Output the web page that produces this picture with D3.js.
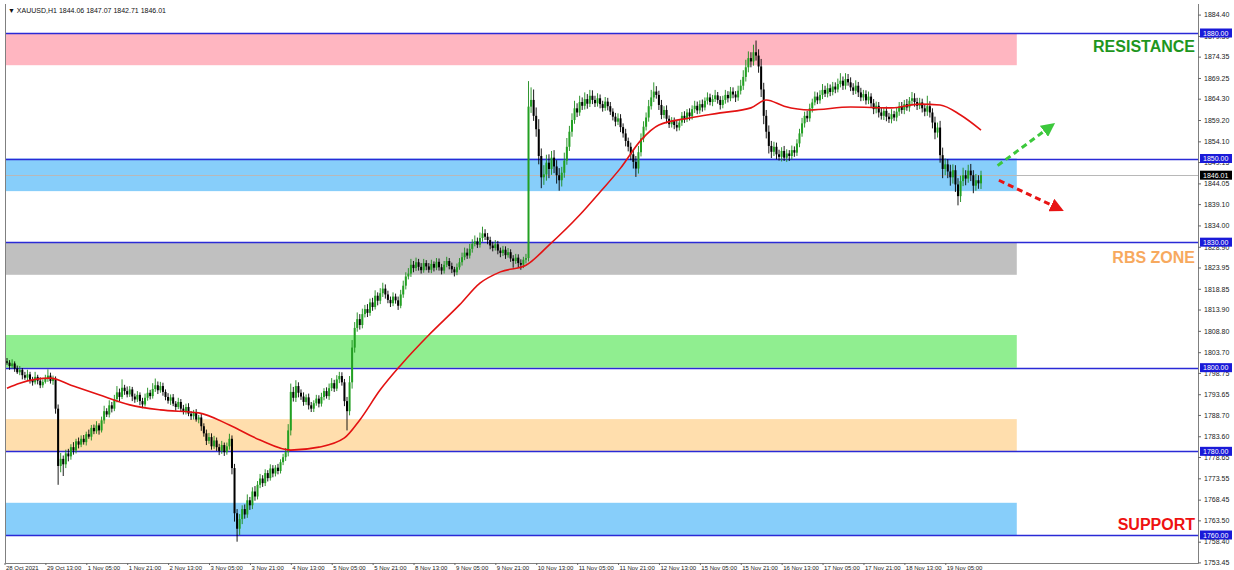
<!DOCTYPE html>
<html><head><meta charset="utf-8">
<script src="https://cdn.jsdelivr.net/npm/d3@7"></script>
<style>html,body{margin:0;padding:0;background:#fff;overflow:hidden}</style>
</head><body>
<svg id="c" width="1234" height="570"></svg>
<script>
// ---------- DATA ----------
const symbolTitle = "▼ XAUUSD,H1  1844.06 1847.07 1842.71 1846.01";
const firstOpen = 1801.5;
const closes = [
1801.2,1800.4,1801.0,1799.8,1798.9,1799.5,1798.2,1797.6,1798.4,1797.1,
1796.5,1797.8,1796.9,1795.8,1796.6,1797.4,1798.1,1796.8,1797.3,1790.2,
1776.5,1778.2,1776.9,1779.5,1778.8,1781.0,1780.2,1782.4,1781.6,1783.0,
1782.2,1784.1,1783.5,1785.6,1784.8,1786.2,1785.0,1787.4,1789.6,1788.8,
1791.0,1790.2,1792.5,1794.1,1793.0,1795.2,1794.4,1793.6,1794.8,1793.1,
1792.4,1793.5,1792.0,1791.2,1792.8,1794.0,1793.2,1794.9,1795.8,1794.6,
1795.6,1794.2,1793.0,1792.1,1792.9,1791.4,1790.6,1791.8,1790.2,1789.5,
1790.6,1789.0,1788.4,1789.2,1787.6,1788.1,1786.0,1784.3,1782.5,1783.4,
1781.2,1782.6,1781.0,1780.1,1781.5,1779.8,1781.2,1783.0,1776.0,1765.2,
1761.5,1763.8,1766.2,1764.9,1768.3,1767.1,1770.4,1769.2,1772.0,1773.5,
1772.4,1774.8,1773.6,1775.9,1774.7,1776.1,1775.3,1777.4,1778.6,1779.8,
1785.0,1794.2,1792.8,1795.6,1794.0,1793.1,1791.8,1792.9,1791.0,1790.2,
1791.5,1792.6,1791.4,1793.0,1794.4,1793.2,1795.1,1796.3,1795.0,1797.2,
1798.0,1796.5,1792.0,1789.6,1796.5,1804.8,1809.5,1811.6,1810.2,1812.8,
1814.0,1813.1,1815.6,1814.5,1817.2,1816.0,1817.8,1818.9,1817.5,1816.2,
1815.4,1817.0,1816.1,1814.8,1817.5,1819.6,1821.8,1822.5,1824.6,1823.8,
1825.2,1824.1,1823.3,1825.0,1824.2,1823.4,1824.8,1823.9,1825.3,1824.0,
1823.2,1824.6,1825.5,1824.3,1823.5,1822.8,1824.0,1825.2,1826.4,1827.5,
1826.8,1828.4,1829.6,1830.2,1829.4,1831.0,1832.1,1831.3,1830.5,1829.2,
1828.6,1829.5,1828.0,1827.4,1828.2,1826.9,1827.6,1826.1,1825.5,1826.3,
1825.0,1824.6,1825.8,1826.2,1862.4,1864.0,1860.2,1857.0,1850.6,1845.5,
1846.2,1849.0,1847.5,1850.2,1848.1,1846.0,1844.8,1846.6,1849.5,1852.8,
1856.4,1859.2,1862.0,1861.0,1863.5,1862.6,1864.2,1863.1,1865.0,1864.0,
1863.2,1864.4,1863.0,1862.1,1863.6,1862.5,1861.2,1860.0,1858.8,1859.6,
1857.5,1856.0,1854.2,1852.8,1851.0,1849.2,1847.6,1851.5,1854.8,1857.6,
1859.8,1862.5,1864.6,1866.0,1865.2,1862.8,1860.4,1861.6,1859.5,1858.2,
1859.0,1858.0,1857.4,1858.6,1860.2,1859.4,1861.0,1860.1,1861.8,1862.6,
1861.5,1863.0,1862.2,1863.8,1864.6,1863.5,1864.2,1865.1,1864.0,1862.8,
1864.0,1865.2,1864.4,1866.0,1865.3,1864.6,1866.2,1867.4,1869.5,1871.8,
1874.0,1873.2,1875.4,1874.6,1872.0,1866.5,1860.2,1856.4,1853.0,1851.6,
1852.8,1851.0,1850.4,1851.8,1850.2,1851.2,1850.6,1852.0,1851.4,1853.6,
1856.0,1858.4,1860.2,1859.6,1862.0,1863.4,1864.8,1863.9,1865.2,1866.4,
1865.5,1866.8,1865.9,1867.2,1866.5,1867.8,1868.6,1867.4,1869.0,1868.2,
1867.0,1866.2,1867.4,1865.8,1864.6,1865.4,1863.9,1864.8,1863.2,1861.8,
1862.6,1861.0,1860.2,1861.4,1860.0,1859.4,1860.6,1859.8,1861.2,1862.4,
1861.6,1863.0,1862.2,1863.8,1864.4,1863.5,1862.6,1863.4,1862.0,1861.2,
1862.5,1861.0,1858.6,1856.2,1857.4,1850.8,1847.5,1848.6,1846.9,1845.5,
1847.2,1843.8,1841.0,1844.6,1846.0,1845.2,1847.1,1846.0,1843.5,1844.8,
1844.06,1846.01];
const upperWick = [
0.8,0.6,1.0,0.5,0.7,0.9,0.4,0.8,1.1,0.6, 0.7,1.2,0.5,0.8,0.6,0.9,1.5,0.7,0.8,0.6,
1.0,1.4,0.8,0.9,1.1,0.7,1.2,0.6,0.9,0.8, 0.9,0.6,1.1,0.7,0.8,1.0,0.5,0.9,1.3,0.7,
1.2,0.8,1.0,1.5,0.9,2.0,0.7,1.1,0.8,0.6, 0.7,0.9,0.6,0.8,1.0,1.2,0.7,1.4,1.6,0.9,
1.0,0.8,0.6,0.9,0.7,0.8,0.6,1.0,0.7,0.9, 0.8,0.9,0.6,0.7,0.9,0.6,0.8,0.7,0.9,1.0,
0.9,1.1,0.7,0.8,1.0,0.6,0.9,1.2,0.8,1.0, 1.0,1.2,0.9,1.1,1.4,0.8,1.0,1.3,0.9,1.1,
0.8,0.9,0.7,1.0,0.8,0.6,0.9,0.7,0.8,1.0, 1.5,2.0,1.2,1.4,0.9,0.8,1.0,0.7,0.9,0.8,
0.7,0.9,0.8,1.0,0.7,0.9,1.1,1.2,0.8,1.0, 1.0,0.9,0.8,1.0,1.5,1.8,1.4,1.6,1.2,1.3,
1.0,1.2,0.9,1.1,1.3,0.8,1.2,1.4,1.0,0.9, 0.8,1.0,0.7,0.9,1.1,1.2,1.0,1.3,1.4,0.9,
1.1,0.8,0.9,1.0,0.7,0.8,1.0,0.6,0.9,0.8, 0.8,0.9,1.0,0.7,0.8,0.6,0.9,1.0,1.1,1.2,
1.0,1.2,1.1,1.4,0.9,1.3,1.6,1.0,0.9,0.8, 0.9,1.0,0.8,0.7,0.9,0.8,1.0,0.7,0.8,0.9,
0.8,0.9,0.7,1.0,6.1,3.0,2.5,2.0,2.4,1.8, 2.2,1.9,2.0,1.6,1.8,1.5,1.7,1.4,1.9,2.1,
1.4,1.6,1.8,1.2,1.5,1.1,1.6,1.2,1.4,1.3, 1.0,1.2,0.9,0.8,1.1,0.9,1.0,0.8,0.9,1.2,
1.0,0.9,1.1,0.8,1.0,1.2,1.4,1.5,1.2,1.3, 1.2,1.5,1.8,2.2,1.3,1.0,1.2,0.9,1.1,0.8,
0.9,0.8,1.0,0.7,0.9,1.1,0.8,1.0,0.9,1.2, 1.0,0.9,1.1,0.8,1.2,0.9,1.0,1.3,0.8,0.9,
1.0,1.2,0.9,1.1,1.0,0.8,1.2,1.4,1.6,1.8, 1.6,1.4,1.8,2.8,1.5,1.8,1.6,1.4,1.5,1.2,
1.2,1.0,1.1,0.9,1.2,1.0,0.8,1.1,0.9,1.0, 1.1,1.3,1.0,1.2,1.1,0.9,1.2,1.0,1.1,1.4,
1.0,1.2,0.9,1.1,1.0,1.3,1.8,1.0,1.4,1.2, 1.2,1.0,1.3,0.9,1.1,1.0,0.9,1.2,0.8,1.0,
1.0,0.9,1.1,0.8,1.0,0.9,1.2,0.8,1.0,1.1, 1.1,1.0,1.2,0.9,1.5,1.2,1.0,1.1,0.9,1.0,
2.5,1.2,1.0,1.4,1.2,1.6,1.8,1.4,1.2,1.6, 1.4,1.2,1.5,1.3,1.8,1.2,1.4,1.6,1.2,1.5,
1.2,1.06];
const lowerWick = [
0.5,0.9,0.6,0.8,0.4,0.7,1.0,0.5,0.6,0.9, 0.8,0.5,0.9,0.7,0.6,0.4,0.8,0.6,0.9,1.2,
4.5,1.5,2.8,0.9,1.2,0.8,1.0,0.7,0.9,0.6, 0.6,0.8,0.5,0.9,0.7,0.6,1.0,0.5,0.8,0.6,
0.7,0.9,0.6,0.8,1.0,0.5,0.9,0.7,0.6,1.1, 0.8,0.6,1.0,0.9,0.5,0.7,0.8,0.6,0.7,0.9,
0.6,0.9,0.8,0.7,1.0,0.6,0.9,0.5,0.8,0.7, 0.7,0.6,0.9,0.8,0.5,0.9,1.1,0.8,1.0,0.7,
0.8,0.6,0.9,1.0,0.7,0.9,0.6,0.8,1.5,2.0, 3.1,1.5,1.2,1.0,0.8,1.1,0.9,1.0,0.7,0.8,
0.9,0.7,0.8,0.6,0.9,0.7,0.8,0.6,0.7,0.9, 1.0,1.2,0.9,1.0,1.1,0.8,0.9,0.7,1.0,0.8,
0.8,0.6,0.9,0.7,0.8,0.6,0.9,0.7,0.8,0.6, 0.9,0.8,1.2,4.6,1.0,1.5,1.2,0.9,1.1,0.8,
0.8,1.0,0.7,0.9,0.6,1.1,0.8,0.9,1.0,0.8, 0.9,0.7,0.8,1.0,0.6,0.8,0.9,0.7,0.8,1.0,
0.7,0.9,0.8,0.6,0.9,0.7,0.8,0.9,0.6,0.8, 0.9,0.7,0.6,0.8,0.9,1.0,0.7,0.6,0.8,0.7,
0.8,0.7,0.9,0.6,0.8,0.7,0.9,0.8,1.0,0.9, 0.8,0.6,0.9,1.0,0.7,0.9,0.6,0.8,1.6,0.7,
1.0,1.2,0.8,0.9,0.8,1.5,1.2,1.8,2.0,2.6, 1.8,1.5,2.2,1.4,1.6,2.0,2.5,1.5,1.2,1.0,
1.0,1.2,0.9,1.1,0.8,1.0,0.9,1.2,0.8,1.0, 0.9,0.8,1.0,0.9,0.7,1.0,0.8,0.9,1.1,0.8,
1.2,1.0,1.3,1.1,1.4,1.6,2.0,1.2,1.0,0.9, 0.9,1.0,0.8,1.1,0.9,1.2,1.0,0.8,1.1,0.9,
0.8,1.0,0.9,0.7,0.8,0.9,0.7,1.0,0.8,0.9, 0.9,0.8,1.0,0.7,0.9,0.8,1.0,0.7,0.9,1.1,
0.8,0.9,1.0,0.7,0.9,1.1,0.8,0.9,1.0,1.1, 1.2,1.4,1.0,1.2,1.5,1.8,2.0,1.6,1.8,1.5,
1.0,1.2,0.9,1.1,0.8,1.0,1.2,0.9,1.0,0.8, 0.9,0.8,1.0,0.9,0.8,1.0,0.7,0.9,0.8,1.0,
0.8,0.9,1.0,0.8,0.9,0.7,0.8,1.0,0.9,0.8, 0.9,1.0,0.8,1.1,0.9,0.8,1.0,0.9,1.1,1.2,
1.0,1.2,0.9,1.0,1.1,0.9,1.0,0.8,0.9,1.0, 0.9,1.0,0.8,1.0,0.9,1.1,1.0,0.8,1.0,1.1,
1.0,1.2,1.4,1.6,1.2,1.8,2.2,1.5,1.6,2.0, 1.5,1.8,2.2,1.4,1.2,1.6,1.0,1.4,1.8,1.2,
1.3,1.35];
// moving average, read at sample bars
const maBars = [0,5,17,25,36,48,60,75,87,99,111,122,132,138,146,154,165,177,185,193,203,212,224,232,240,248,255,267,279,291,297,304,314,330,346,357,365,373,381];
const maVals = [1795.1,1796.3,1797.5,1795.8,1793.5,1791.1,1789.9,1789.2,1786.3,1782.7,1780.3,1781.0,1783.2,1787.5,1794.7,1800.6,1807.8,1815.0,1820.2,1822.9,1824.5,1829.3,1836.5,1842.0,1847.7,1854.4,1858.0,1859.7,1860.9,1862.1,1864.0,1862.5,1861.6,1862.3,1862.1,1863.0,1862.8,1860.4,1856.8];
// zones
const zoneLows   = [1872.3, 1842.2, 1822.2, 1800.0, 1780.0, 1760.0];
const zoneHighs  = [1880.0, 1850.0, 1830.0, 1807.8, 1787.7, 1767.7];
const zoneColors = ["#ffb6c1", "#87cefa", "#c0c0c0", "#90ee90", "#ffdead", "#87cefa"];
const levels = [1880, 1850, 1830, 1800, 1780, 1760];
const bidPrice = 1846.01;
const yTicks = [1884.40,1879.30,1874.35,1869.25,1864.30,1859.20,1854.10,1849.15,1844.05,1839.10,1834.00,1828.90,1823.95,1818.85,1813.90,1808.80,1803.70,1798.75,1793.65,1788.70,1783.60,1778.65,1773.55,1768.45,1763.50,1758.40,1753.45];
const xTickLabels = ["28 Oct 2021","29 Oct 13:00","1 Nov 05:00","1 Nov 21:00","2 Nov 13:00","3 Nov 05:00","3 Nov 21:00","4 Nov 13:00","5 Nov 05:00","5 Nov 21:00","8 Nov 13:00","9 Nov 05:00","9 Nov 21:00","10 Nov 13:00","11 Nov 05:00","11 Nov 21:00","12 Nov 13:00","15 Nov 05:00","15 Nov 21:00","16 Nov 13:00","17 Nov 05:00","17 Nov 21:00","18 Nov 13:00","19 Nov 05:00"];
const xTickBars = [0,16,32,48,64,80,96,112,128,144,160,176,192,208,224,240,256,272,288,304,320,336,352,368];
const zoneEndBar = 395;
// arrows [bar0, price0, bar1, price1]
const upArrow = [387.5, 1848.3, 406.5, 1856.9];
const downArrow = [388, 1844.8, 409.5, 1838.6];
// annotations
const annTexts = ["RESISTANCE", "RBS ZONE", "SUPPORT"];
const annPrices = [1876.7, 1826.3, 1762.5];
const annColors = ["#1e961e", "#f7a95e", "#ee1111"];

// ---------- CHART ----------
const svg = d3.select("#c");
const FONT = "Liberation Sans, Arial, sans-serif";
const L = 5, R = 1198, T = 4, B = 563;
const x = d3.scaleLinear().domain([0, closes.length - 1]).range([7, 981]);
const y = d3.scaleLinear().domain([1760, 1880]).range([535, 33]);

const bars = closes.map((c, i) => {
  const o = i === 0 ? firstOpen : closes[i - 1];
  return {i, o, c, h: Math.max(o, c) + upperWick[i], l: Math.min(o, c) - lowerWick[i]};
});

svg.append("rect").attr("width", 1234).attr("height", 570).attr("fill", "#fff");

// zones
svg.append("g").selectAll("rect").data(zoneLows).join("rect")
  .attr("x", L).attr("width", x(zoneEndBar) - L)
  .attr("y", (d, k) => y(zoneHighs[k])).attr("height", (d, k) => y(d) - y(zoneHighs[k]))
  .attr("fill", (d, k) => zoneColors[k]);

// bid line
svg.append("line").attr("x1", L).attr("x2", R).attr("y1", Math.round(y(bidPrice)) + 0.5).attr("y2", Math.round(y(bidPrice)) + 0.5)
  .attr("stroke", "#b8b8b8").attr("stroke-width", 1);

// level lines
svg.append("g").selectAll("line").data(levels).join("line")
  .attr("x1", L).attr("x2", R).attr("y1", d => Math.round(y(d)) + 0.5).attr("y2", d => Math.round(y(d)) + 0.5)
  .attr("stroke", "#2a2ad6").attr("stroke-width", 1.3);

// frame
svg.append("path").attr("d", `M${L + 0.5},${T}V${B + 0.5}H${R + 0.5}V${T}`)
  .attr("fill", "none").attr("stroke", "#808080").attr("stroke-width", 1);

// candles
const cg = svg.append("g");
cg.selectAll("line").data(bars).join("line")
  .attr("x1", d => x(d.i)).attr("x2", d => x(d.i))
  .attr("y1", d => y(d.h)).attr("y2", d => y(d.l))
  .attr("stroke", d => d.c >= d.o ? "#1a8a1a" : "#000").attr("stroke-width", 0.9);
cg.selectAll("rect").data(bars).join("rect")
  .attr("x", d => x(d.i) - 1).attr("width", 2)
  .attr("y", d => y(Math.max(d.o, d.c))).attr("height", d => Math.max(0.8, Math.abs(y(d.o) - y(d.c))))
  .attr("fill", d => d.c >= d.o ? "#22a022" : "#000");

// moving average
svg.append("path").datum(maBars)
  .attr("d", d3.line().x(b => x(b)).y((b, k) => y(maVals[k])).curve(d3.curveMonotoneX))
  .attr("fill", "none").attr("stroke", "#e31212").attr("stroke-width", 1.6);

// arrows
const defs = svg.append("defs");
[["g", "#3cc83c"], ["r", "#e81414"]].forEach(([id, col]) => {
  defs.append("marker").attr("id", "ah" + id).attr("viewBox", "0 0 10 10").attr("refX", 2).attr("refY", 5)
    .attr("markerWidth", 4.6).attr("markerHeight", 4.6).attr("orient", "auto").attr("markerUnits", "strokeWidth")
    .append("path").attr("d", "M0,0L10,5L0,10Z").attr("fill", col);
});
[[upArrow, "#3cc83c", "g"], [downArrow, "#e81414", "r"]].forEach(([a, col, id]) => {
  svg.append("line").attr("x1", x(a[0])).attr("y1", y(a[1])).attr("x2", x(a[2])).attr("y2", y(a[3]))
    .attr("stroke", col).attr("stroke-width", 3).attr("stroke-dasharray", "6,4")
    .attr("marker-end", `url(#ah${id})`);
});

// y axis
const yAxis = d3.axisRight(y).tickValues(yTicks).tickFormat(d3.format(".2f")).tickSize(3).tickPadding(3);
const ya = svg.append("g").attr("transform", `translate(${R},0)`).call(yAxis);
ya.select(".domain").remove();
ya.selectAll("text").attr("font-size", 7).attr("font-family", FONT).attr("fill", "#222");
ya.selectAll("line").attr("stroke", "#666");

// level price boxes
const lb = svg.append("g").selectAll("g").data(levels).join("g")
  .attr("transform", d => `translate(${R + 2},${y(d)})`);
lb.append("rect").attr("y", -4.5).attr("width", 32).attr("height", 9).attr("fill", "#1a1ad8");
lb.append("text").attr("x", 3).attr("y", 2.5).attr("font-size", 7).attr("fill", "#fff")
  .attr("font-family", FONT).text(d => d3.format(".2f")(d));
const bb = svg.append("g").attr("transform", `translate(${R + 2},${y(bidPrice)})`);
bb.append("rect").attr("y", -4.5).attr("width", 32).attr("height", 9).attr("fill", "#000");
bb.append("text").attr("x", 3).attr("y", 2.5).attr("font-size", 7).attr("fill", "#fff")
  .attr("font-family", FONT).text(d3.format(".2f")(bidPrice));

// x axis
const xa = svg.append("g");
xa.selectAll("line").data(xTickBars).join("line")
  .attr("x1", d => x(d) - 2).attr("x2", d => x(d) - 2).attr("y1", B).attr("y2", B + 2).attr("stroke", "#666");
xa.selectAll("text").data(xTickLabels).join("text")
  .attr("x", (d, k) => x(xTickBars[k]) - 1).attr("y", 569.5).attr("font-size", 6)
  .attr("font-family", FONT).attr("fill", "#222").text(d => d);

// title
svg.append("text").attr("x", 8).attr("y", 13).attr("font-size", 7)
  .attr("font-family", FONT).attr("fill", "#111").text(symbolTitle);

// annotations
svg.append("g").selectAll("text").data(annTexts).join("text")
  .attr("x", 1195).attr("y", (d, k) => y(annPrices[k]) + 5.5).attr("text-anchor", "end")
  .attr("font-size", 16).attr("font-weight", "bold")
  .attr("font-family", FONT).attr("fill", (d, k) => annColors[k]).text(d => d);
</script>
</body></html>
